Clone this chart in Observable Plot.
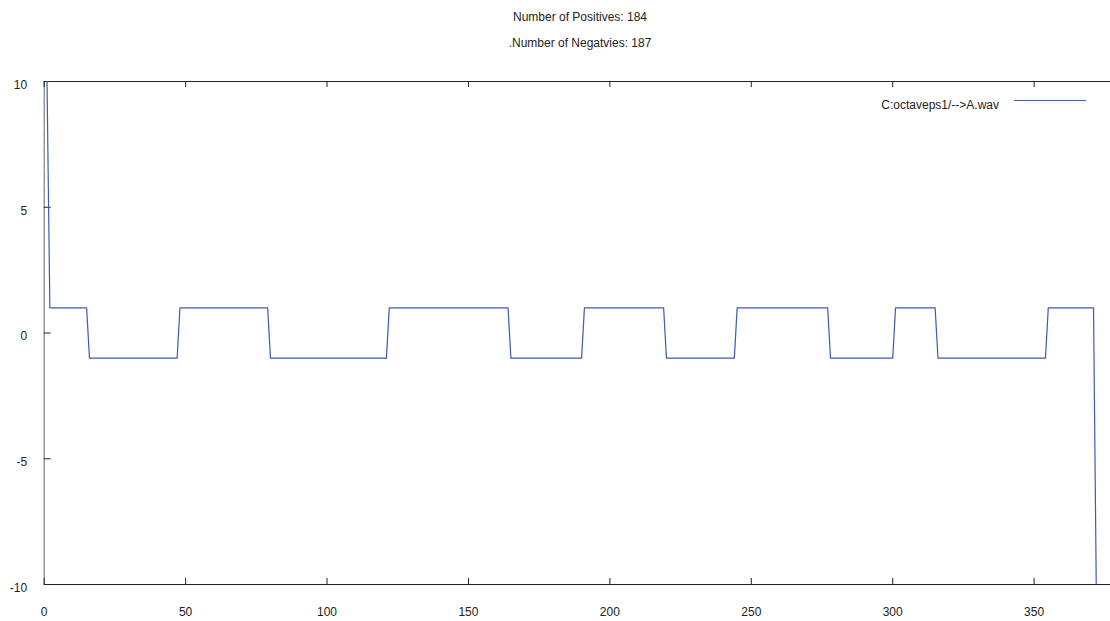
<!DOCTYPE html>
<html>
<head>
<meta charset="utf-8">
<script src="https://cdn.jsdelivr.net/npm/d3@7"></script>
<script src="https://cdn.jsdelivr.net/npm/@observablehq/plot@0.6"></script>
<style>
  html, body { margin: 0; padding: 0; background: #fff; }
  #wrap { position: relative; width: 1110px; height: 621px; overflow: hidden; font-family: "Liberation Sans", Arial, sans-serif; color: #222; }
  .title { position: absolute; left: 380px; width: 400px; text-align: center; font-size: 12px; line-height: 14px; }
  #legtext { position: absolute; right: 111px; top: 98px; font-size: 12px; line-height: 14px; white-space: nowrap; }
  #legline { position: absolute; left: 1014px; top: 100px; width: 72px; height: 0; border-top: 1px solid #3a5cb5; }
  #chart { position: absolute; left: 0; top: 0; }
</style>
</head>
<body>
<div id="wrap">
  <div id="chart"></div>
  <div class="title" id="t1" style="top:10px"></div>
  <div class="title" id="t2" style="top:36px"></div>
  <div id="legtext"></div>
  <div id="legline"></div>
</div>
<script>
// Titles and legend
const titleLines = ["Number of Positives: 184", ".Number of Negatvies: 187"];
const seriesName = "C:octaveps1/-->A.wav";

// Corner points of the signal (sample index, value); line is straight between them
const sampleX = [1, 2, 15, 16, 47, 48, 79, 80, 121, 122, 164, 165, 190, 191, 219, 220, 244, 245, 277, 278, 300, 301, 315, 316, 354, 355, 371, 372];
const sampleY = [10, 1, 1, -1, -1, 1, 1, -1, -1, 1, 1, -1, -1, 1, 1, -1, -1, 1, 1, -1, -1, 1, 1, -1, -1, 1, 1, -10.5];

// Axis ticks
const xTicks = [0, 50, 100, 150, 200, 250, 300, 350];
const yTicks = [-10, -5, 0, 5, 10];

document.getElementById("t1").textContent = titleLines[0];
document.getElementById("t2").textContent = titleLines[1];
document.getElementById("legtext").textContent = seriesName;

const data = sampleX.map((x, i) => ({x, y: sampleY[i]}));
const lineColor = "#3a5cb5";
const axisColor = "#222";
const fmt = d => String(d);

const chart = Plot.plot({
  width: 1110,
  height: 621,
  marginLeft: 43.7,
  marginRight: 0,
  marginTop: 81,
  marginBottom: 37,
  style: { fontFamily: "'Liberation Sans', Arial, sans-serif", fontSize: "12px", color: axisColor, background: "transparent" },
  x: { domain: [0, 377], axis: null },
  y: { domain: [-10, 10], axis: null },
  marks: [
    // frame lines
    Plot.ruleY([-10, 10], { stroke: axisColor, strokeWidth: 1 }),
    Plot.ruleX([0], { stroke: "#666", strokeWidth: 1 }),
    // inward ticks
    Plot.axisX({ anchor: "bottom", ticks: xTicks, tickSize: 6, dy: -6, fill: "none", stroke: axisColor, label: null }),
    Plot.axisX({ anchor: "top", ticks: xTicks, tickSize: 5, dy: 5, fill: "none", stroke: axisColor, label: null }),
    Plot.axisY({ anchor: "left", ticks: yTicks, tickSize: 7, dx: 7, fill: "none", stroke: axisColor, label: null }),
    // tick labels
    Plot.axisX({ anchor: "bottom", ticks: xTicks, tickFormat: fmt, tickSize: 0, tickPadding: 23, stroke: "none", fill: axisColor, label: null }),
    Plot.axisY({ anchor: "left", ticks: yTicks, tickFormat: fmt, tickSize: 0, tickPadding: 17, dy: 3.5, stroke: "none", fill: axisColor, label: null }),
    // the signal
    Plot.line(data, { x: "x", y: "y", stroke: lineColor, strokeWidth: 1.2, clip: true })
  ]
});
document.getElementById("chart").appendChild(chart);
</script>
</body>
</html>
